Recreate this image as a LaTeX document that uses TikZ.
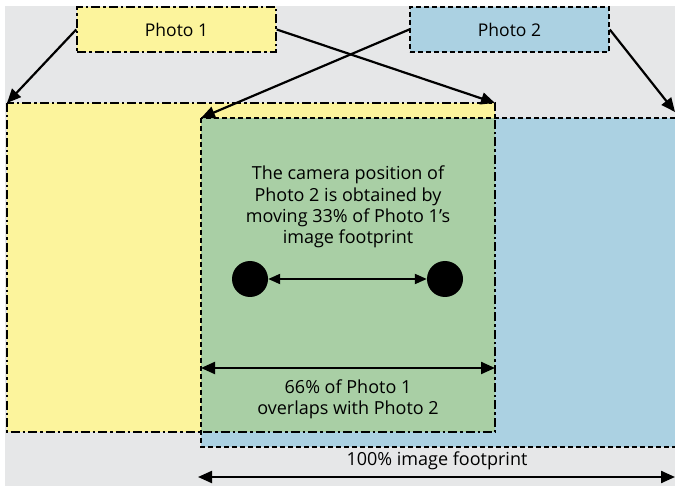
\documentclass[tikz,border=0pt]{standalone}
\usepackage{fontspec}
\setmainfont{Open Sans}
\usetikzlibrary{positioning,calc,arrows.meta}
\definecolor{photoYellow}{RGB}{252,244,156}
\definecolor{photoBlue}{RGB}{171,209,226}
\definecolor{overlapGreen}{RGB}{169,207,165}
\definecolor{bgGray}{RGB}{230,231,232}

\begin{document}
\begin{tikzpicture}[x=1pt,y=-1pt,
    dashdot/.style={line width=1.5pt,dash pattern=on 9pt off 3pt on 2.5pt off 3pt},
    dashline/.style={line width=1.5pt,dash pattern=on 5pt off 3pt},
    photobox/.style={draw,minimum width=199pt,minimum height=45pt,inner sep=0pt,
                     font=\fontsize{17.5}{21}\selectfont},
    footprint/.style={minimum width=488pt,minimum height=329pt,inner sep=0pt,
                      outer sep=0pt,anchor=north west},
    pointer/.style={line width=2.2pt,-{Triangle[length=14pt,width=12pt]}},
    span/.style={line width=2.2pt,{Triangle[length=14pt,width=12pt]}-{Triangle[length=14pt,width=12pt]}},
    cam/.style={circle,fill=black,minimum size=36pt,inner sep=0pt},
    txt/.style={align=center,font=\fontsize{18}{21.3}\selectfont}]

    \useasboundingbox (0,0) rectangle (675,486);
    \fill[bgGray] (5,6) rectangle (675,486);

    % image footprints
    \node[footprint,fill=photoYellow] (foot1) at (7,103) {};
    \node[footprint,fill=photoBlue] (foot2) at (201,118) {};
    \fill[overlapGreen] (foot2.north west) rectangle (foot1.south east);
    \draw[dashdot] (foot1.north west) rectangle (foot1.south east);
    \draw[dashline] (foot2.north west) rectangle (foot2.south east);

    % photos
    \node[photobox,dashdot,fill=photoYellow] (photo1) at (176.5,29.5) {Photo 1};
    \node[photobox,dashline,fill=photoBlue] (photo2) at (509.5,29.5) {Photo 2};

    \coordinate (foot2end) at (675,112);
    \draw[pointer] (photo1.west) -- (foot1.north west);
    \draw[pointer] (photo1.east) -- (foot1.north east);
    \draw[pointer] (photo2.west) -- (foot2.north west);
    \draw[pointer] (photo2.east) -- (foot2end);

    % camera positions
    \node[txt] (note) at (348,207) {The camera position of\\Photo 2 is obtained by\\moving 33\% of Photo 1's\\image footprint};
    \node[cam] (cam1) at (250,279) {};
    \node[cam] (cam2) at (445,279) {};
    \draw[line width=2pt,{Triangle[length=12pt,width=10pt]}-{Triangle[length=12pt,width=10pt]}] (cam1) -- (cam2);

    % overlap and full footprint
    \coordinate (ovleft) at (201,368);
    \coordinate (ovright) at (495,368);
    \draw[span] (ovleft) -- (ovright);
    \node[txt] (ovtext) at (348,399) {66\% of Photo 1\\overlaps with Photo 2};

    \coordinate (fullleft) at (198,477);
    \coordinate (fullright) at (675,477);
    \draw[span] (fullleft) -- (fullright);
    \node[txt] (fulltext) at (437,461) {100\% image footprint};
\end{tikzpicture}
\end{document}
